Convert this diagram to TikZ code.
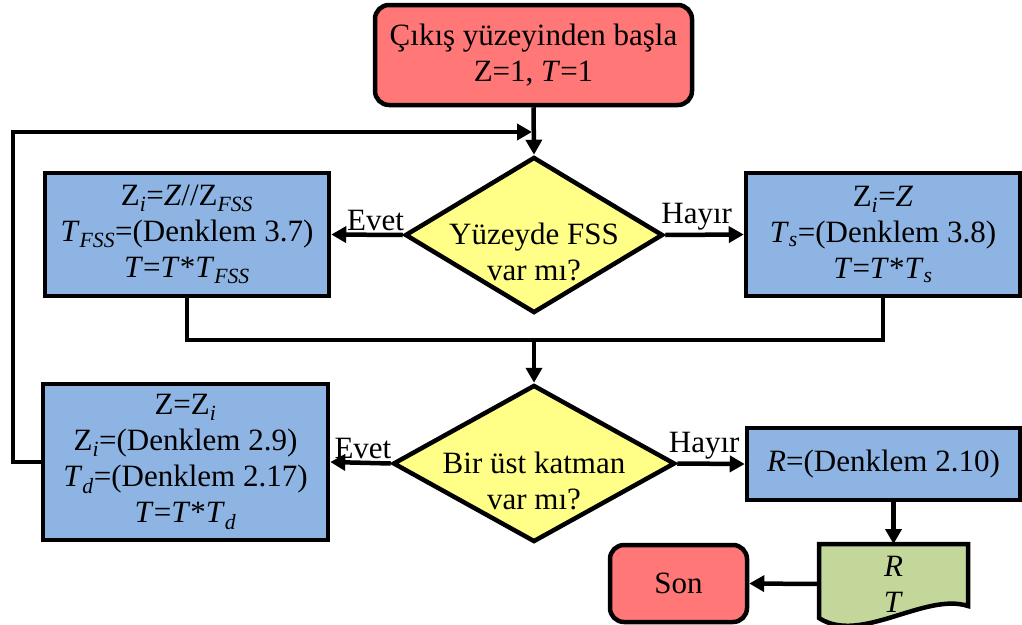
\documentclass[tikz,border=0pt]{standalone}
\usepackage{fontspec}
\setmainfont{LiberationSerif}[Extension=.ttf, UprightFont=*-Regular,
  ItalicFont=*-Italic, BoldFont=*-Bold, BoldItalicFont=*-BoldItalic]
\usepackage{tikz}
\usepackage{xcolor}
\usetikzlibrary{shapes.geometric,arrows.meta}

\definecolor{startred}{HTML}{FF7777}
\definecolor{stepblue}{HTML}{8DB4E2}
\definecolor{askyellow}{HTML}{FFFF88}
\definecolor{docgreen}{HTML}{C4D79B}
\newcommand{\lowtxt}[1]{\textsubscript{\textit{#1}}}

\begin{document}
\begin{tikzpicture}[x=1pt,y=-1pt,line width=4.5pt,
  font=\rmfamily\fontsize{31}{36}\selectfont,
  terminal/.style={draw, rounded corners=14pt, fill=startred, align=center, inner sep=0pt},
  stepbox/.style={draw, rectangle, fill=stepblue, align=center, inner sep=0pt},
  decision/.style={draw, diamond, fill=askyellow, inner sep=0pt},
  flow/.style={-{Triangle[length=15pt,width=16pt]}},
  answer/.style={above, inner sep=2pt}]
  \useasboundingbox (0,0) rectangle (1022,624);
  \pgfmathsetmacro{\wave}{17} % text of the questions sits low

  % start
  \node[terminal, minimum width=317pt, minimum height=100pt] (start) at (533.5,55)
    {Çıkış yüzeyinden başla\\Z=1, \textit{T}=1};

  % first question, FSS on the surface
  \node[decision, minimum width=258pt, minimum height=156pt] (fss) at (534,235) {};
  \node[align=center, yshift=-\wave pt] (fsstxt) at (fss) {Yüzeyde FSS\\var mı?};
  \node[stepbox, minimum width=284pt, minimum height=123pt] (withfss) at (187,234.5)
    {Z\lowtxt{i}=\textit{Z}//Z\lowtxt{FSS}\\
     \textit{T}\lowtxt{FSS}=(Denklem 3.7)\\
     \textit{T}=\textit{T}*\textit{T}\lowtxt{FSS}};
  \node[stepbox, minimum width=274pt, minimum height=123pt] (nofss) at (883,234.5)
    {Z\lowtxt{i}=\textit{Z}\\
     \textit{T}\lowtxt{s}=(Denklem 3.8)\\
     \textit{T}=\textit{T}*\textit{T}\lowtxt{s}};

  % second question, next layer
  \node[decision, minimum width=282pt, minimum height=157pt] (layer) at (534,463.5) {};
  \node[align=center, yshift=-\wave pt] (layertxt) at (layer) {Bir üst katman\\var mı?};
  \node[stepbox, minimum width=285pt, minimum height=156pt] (nextlayer) at (185.5,462)
    {Z=Z\lowtxt{i}\\
     Z\lowtxt{i}=(Denklem 2.9)\\
     \textit{T}\lowtxt{d}=(Denklem 2.17)\\
     \textit{T}=\textit{T}*\textit{T}\lowtxt{d}};
  \node[stepbox, minimum width=273pt, minimum height=72pt] (refl) at (883.5,464)
    {\textit{R}=(Denklem 2.10)};

  % output document and end
  \path[draw, fill=docgreen] (819,544) -- (968,544) -- (968,606)
    .. controls (925,592) and (860,645) .. (819,618) -- cycle;
  \node[align=center, minimum width=149pt, minimum height=80pt, inner sep=0pt,
    outer sep=0pt] (result) at (893.5,584) {\textit{R}\\\textit{T}};
  \node[terminal, minimum width=137pt, minimum height=77pt] (son) at (678.5,583.5) {Son};

  % connectors
  \coordinate (merge) at (532,132);
  \coordinate (loop) at (13,132);
  \coordinate (join) at (534,340);

  \draw[flow] (start.south) -- (fss.north);
  \draw[flow] (fss.west) -- node[answer, pos=0.38] (yes1) {Evet} (withfss.east);
  \draw[flow] (fss.east) -- node[answer, pos=0.4] (no1) {Hayır} (nofss.west);
  \draw (withfss.south) |- (join);
  \draw (nofss.south) |- (join);
  \draw[flow] (join) -- (layer.north);
  \draw[flow] (layer.west) -- node[answer, pos=0.46] (yes2) {Evet} (nextlayer.east);
  \draw[flow] (layer.east) -- node[answer, pos=0.4] (no2) {Hayır} (refl.west);
  \draw[flow] (nextlayer.west) -| (loop) -- (merge);
  \draw[flow] (refl.south -| result.north) -- (result.north);
  \draw[flow] (result.west) -- (son.east);

\end{tikzpicture}
\end{document}
